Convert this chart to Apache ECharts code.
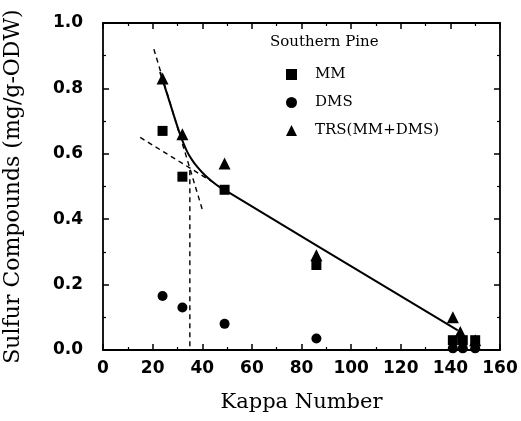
<!DOCTYPE html>
<html>
<head>
<meta charset="utf-8">
<script src="https://cdn.jsdelivr.net/npm/echarts@6/dist/echarts.min.js"></script>
<style>
  html, body { margin: 0; padding: 0; background: #fff; }
  #chartContainer { width: 521px; height: 421px; }
</style>
</head>
<body>
<div id="chartContainer"></div>
<script>
// measured points (Kappa number, mg/g-ODW)
var mmData = [[24, 0.67], [32, 0.53], [49, 0.49], [86, 0.26], [141, 0.03], [145, 0.03], [150, 0.03]];
var dmsData = [[24, 0.165], [32, 0.13], [49, 0.08], [86, 0.035], [141, 0.005], [145, 0.005], [150, 0.005]];
var trsData = [[24, 0.83], [32, 0.66], [49, 0.57], [86, 0.29], [141, 0.10], [144, 0.055], [150, 0.03]];

// fitted trend lines
var fitCurve = [[23, 0.85], [27, 0.755], [30, 0.683], [32, 0.64], [34, 0.605], [36, 0.58], [38, 0.56], [41, 0.535], [44, 0.515], [47, 0.498], [49, 0.49]];
var fitLine = [[49, 0.49], [86, 0.32], [143, 0.06]];
var dashSteep = [[20.5, 0.92], [40, 0.43]];
var dashShallow = [[15, 0.65], [45, 0.51]];
var dashVertical = [[35, 0.55], [35, 0]];

var xTicks = [0, 20, 40, 60, 80, 100, 120, 140, 160];
var yTicks = [0, 0.2, 0.4, 0.6, 0.8, 1.0];

var myChart = echarts.init(document.getElementById('chartContainer'), null, { renderer: 'canvas' });

var tickFont = { fontFamily: 'DejaVu Sans', fontWeight: 'bold', fontSize: 17, color: '#000' };
var serif = 'DejaVu Serif';

function boxAxis(pos, isX) {
    return {
        type: 'value',
        position: pos,
        min: 0,
        max: isX ? xTicks[xTicks.length - 1] : yTicks[yTicks.length - 1],
        interval: isX ? 20 : 0.2,
        axisLine: { show: true, onZero: false, lineStyle: { color: '#000', width: 1.8 } },
        axisTick: { show: true, inside: true, length: 6, lineStyle: { color: '#000', width: 1.5 } },
        minorTick: { show: true, splitNumber: 2, length: 3, lineStyle: { color: '#000', width: 1.2 } },
        axisLabel: { show: false },
        splitLine: { show: false }
    };
}

var xBottom = boxAxis('bottom', true);
xBottom.name = 'Kappa Number';
xBottom.nameLocation = 'middle';
xBottom.nameGap = 42;
xBottom.nameTextStyle = { fontFamily: serif, fontSize: 21, color: '#000' };
xBottom.axisLabel = Object.assign({ show: true, margin: 10 }, tickFont);

var yLeft = boxAxis('left', false);
yLeft.name = 'Sulfur Compounds (mg/g-ODW)';
yLeft.nameLocation = 'middle';
yLeft.nameGap = 79;
yLeft.nameTextStyle = { fontFamily: serif, fontSize: 22, color: '#000' };
yLeft.axisLabel = Object.assign({ show: true, margin: 20, formatter: function (v) { return v.toFixed(1); } }, tickFont);

function lineSeries(data, dashed, smooth) {
    return {
        type: 'line',
        data: data,
        smooth: smooth ? 0.3 : false,
        symbol: 'none',
        silent: true,
        lineStyle: { color: '#000', width: dashed ? 1.4 : 2, type: dashed ? [5, 4] : 'solid' },
        z: 1
    };
}

function pointSeries(name, data, symbol, size) {
    return {
        name: name, type: 'scatter', data: data,
        symbol: symbol, symbolSize: size,
        itemStyle: { color: '#000', opacity: 1 }, z: 3
    };
}

var options = {
    animation: false,
    backgroundColor: '#fff',
    grid: { left: 103, right: 21, top: 23, bottom: 71, outerBoundsMode: 'none', containLabel: false },
    title: {
        text: 'Southern Pine',
        left: 265,
        top: 30,
        textStyle: { fontFamily: serif, fontSize: 15, fontWeight: 'normal', color: '#000' }
    },
    legend: {
        orient: 'vertical',
        left: 281,
        top: 62,
        itemWidth: 11,
        itemHeight: 11,
        itemGap: 13,
        data: ['MM', 'DMS', 'TRS(MM+DMS)'],
        itemStyle: { opacity: 1 },
        textStyle: { fontFamily: serif, fontSize: 15, color: '#000', padding: [0, 0, 0, 13] }
    },
    xAxis: [xBottom, boxAxis('top', true)],
    yAxis: [yLeft, boxAxis('right', false)],
    series: [
        lineSeries(fitCurve, false, true),
        lineSeries(fitLine, false, false),
        lineSeries(dashSteep, true, false),
        lineSeries(dashShallow, true, false),
        lineSeries(dashVertical, true, false),
        pointSeries('MM', mmData, 'rect', 10),
        pointSeries('DMS', dmsData, 'circle', 10),
        pointSeries('TRS(MM+DMS)', trsData, 'triangle', 12)
    ]
};

myChart.setOption(options);
</script>
</body>
</html>
